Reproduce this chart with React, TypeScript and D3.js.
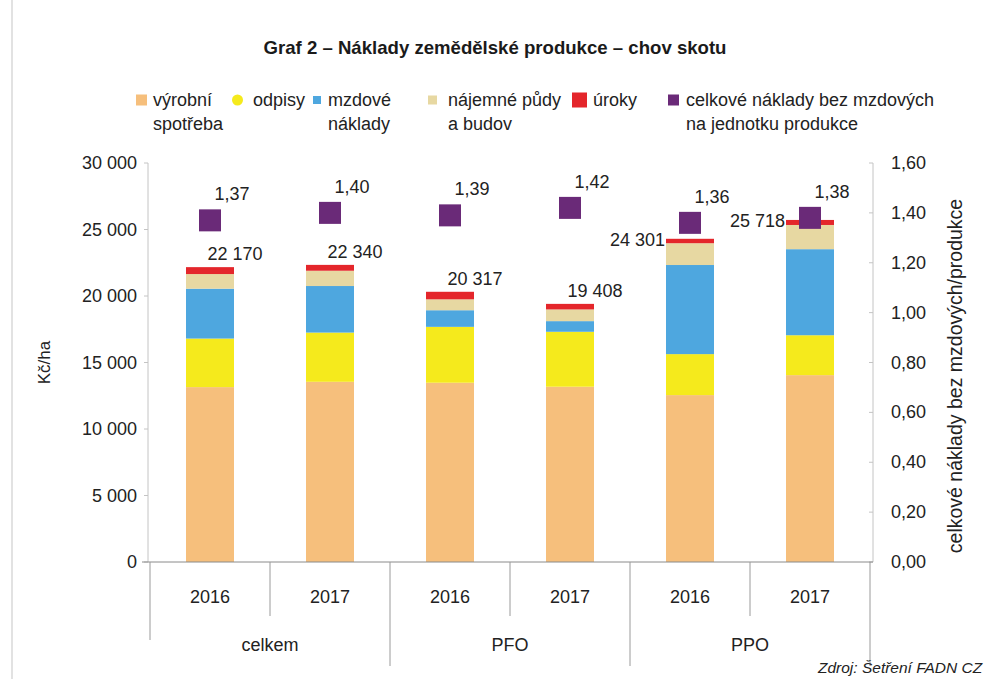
import React from 'react';
import * as d3 from 'd3';

// hodnoty (Kč/ha)
const years = ['2016', '2017', '2016', '2017', '2016', '2017'];
const groups = ['celkem', 'PFO', 'PPO'];
const vyrobniSpotreba = [13150, 13550, 13480, 13180, 12550, 14050];
const odpisy = [3650, 3700, 4200, 4130, 3080, 3000];
const mzdoveNaklady = [3750, 3500, 1250, 800, 6700, 6470];
const najemne = [1100, 1150, 820, 880, 1640, 1820];
const uroky = [520, 440, 567, 418, 331, 378];
const naJednotku = [1.37, 1.4, 1.39, 1.42, 1.36, 1.38];
const leftTicks = [0, 5000, 10000, 15000, 20000, 25000, 30000];
const rightTicks = [0, 0.2, 0.4, 0.6, 0.8, 1.0, 1.2, 1.4, 1.6];

const keys = ['vyrobni', 'odpisy', 'mzdove', 'najemne', 'uroky'];
const colors = {
  vyrobni: '#f6bf7c',
  odpisy: '#f5ea1c',
  mzdove: '#4ea7df',
  najemne: '#e7d8a2',
  uroky: '#e4262b',
};
const purple = '#6a2a78';

const cz = d3.formatLocale({ decimal: ',', thousands: '\u2009', grouping: [3], currency: ['', ''] });
const fmtInt = (v: number) => cz.format(',.0f')(v).replace(/\u2009/g, ' ');
const fmtDec = cz.format('.2f');

const font = "'Liberation Sans', Arial, sans-serif";

export default function App() {
  const W = 990, H = 679;
  const left = 150, right = 870, top = 163, bottom = 562;

  const rows = years.map((y, i) => ({
    idx: i,
    vyrobni: vyrobniSpotreba[i],
    odpisy: odpisy[i],
    mzdove: mzdoveNaklady[i],
    najemne: najemne[i],
    uroky: uroky[i],
  }));
  const series = d3.stack<any>().keys(keys)(rows);
  const totals = rows.map(r => keys.reduce((s, k) => s + (r as any)[k], 0));

  const x = d3.scaleBand<number>()
    .domain(d3.range(years.length))
    .range([left, right])
    .paddingInner(0.6)
    .paddingOuter(0.3);
  const y = d3.scaleLinear().domain([0, 30000]).range([bottom, top]);
  const y2 = d3.scaleLinear().domain([0, 1.6]).range([bottom, top]);
  const step = x.step();
  const bw = x.bandwidth();
  const cx = (i: number) => (x(i) as number) + bw / 2;

  const legend = [
    { c: colors.vyrobni, x: 136, s: 11, tx: 153, l1: 'výrobní', l2: 'spotřeba' },
    { c: colors.odpisy, x: 232, s: 11, tx: 253, l1: 'odpisy', l2: '', round: true },
    { c: colors.mzdove, x: 313, s: 8, tx: 328, l1: 'mzdové', l2: 'náklady' },
    { c: colors.najemne, x: 428, s: 9, tx: 448, l1: 'nájemné půdy', l2: 'a budov' },
    { c: colors.uroky, x: 572, s: 15, tx: 593, l1: 'úroky', l2: '' },
    { c: purple, x: 668, s: 11, tx: 686, l1: 'celkové náklady bez mzdových', l2: 'na jednotku produkce' },
  ];

  return (
    <svg width={W} height={H} style={{ position: 'absolute', left: 0, top: 0, background: '#fff' }}
      fontFamily={font}>
      <line x1={12} x2={12} y1={0} y2={H} stroke="#d8d8d8" strokeWidth={1.5} />

      <text x={495} y={54} textAnchor="middle" fontSize={18.6} fontWeight="bold" fill="#1a1a1a">
        Graf 2 – Náklady zemědělské produkce – chov skotu
      </text>

      {legend.map((d, i) => (
        <g key={i}>
          <rect x={d.x} y={100 - d.s / 2} width={d.s} height={d.s} rx={d.round ? d.s / 2 : 0} fill={d.c} />
          <text x={d.tx} y={106} fontSize={18} fill="#222">{d.l1}</text>
          {d.l2 && <text x={d.tx} y={130} fontSize={18} fill="#222">{d.l2}</text>}
        </g>
      ))}

      {/* osy */}
      <line x1={left - 2} x2={left - 2} y1={top} y2={bottom} stroke="#c4c4c4" />
      {leftTicks.map(t => (
        <g key={t}>
          <line x1={left - 6} x2={left - 2} y1={y(t)} y2={y(t)} stroke="#c4c4c4" />
          <text x={137} y={y(t) + 6} textAnchor="end" fontSize={18} fill="#222">{fmtInt(t)}</text>
        </g>
      ))}
      <line x1={right + 3} x2={right + 3} y1={top} y2={bottom} stroke="#c4c4c4" />
      {rightTicks.map(t => (
        <g key={t}>
          <line x1={right - 1} x2={right + 3} y1={y2(t)} y2={y2(t)} stroke="#c4c4c4" />
          <text x={891} y={y2(t) + 6} fontSize={18} fill="#222">{fmtDec(t)}</text>
        </g>
      ))}
      <text transform={`translate(50,${(top + bottom) / 2}) rotate(-90)`} textAnchor="middle" fontSize={17} fill="#222">Kč/ha</text>
      <text transform={`translate(962,376) rotate(-90)`} textAnchor="middle" fontSize={19.5} fill="#222">
        celkové náklady bez mzdových/produkce
      </text>

      {/* sloupce */}
      {series.map(s => (
        <g key={s.key} fill={(colors as any)[s.key]}>
          {s.map((d, i) => (
            <rect key={i} x={x(i)} y={y(d[1])} width={bw} height={y(d[0]) - y(d[1])} />
          ))}
        </g>
      ))}

      {/* osa x */}
      <line x1={142} x2={873} y1={bottom} y2={bottom} stroke="#8a8a8a" />
      {d3.range(years.length + 1).map(i => {
        const xx = left + i * step;
        const long = i % 2 === 0;
        const y2v = i === 0 ? 640 : long ? 666 : 616;
        return <line key={i} x1={xx} x2={xx} y1={bottom} y2={y2v} stroke="#9a9a9a" />;
      })}
      {years.map((yr, i) => (
        <text key={i} x={cx(i)} y={603} textAnchor="middle" fontSize={18} fill="#222">{yr}</text>
      ))}
      {groups.map((g, i) => (
        <text key={g} x={left + (2 * i + 1) * step} y={651} textAnchor="middle" fontSize={18} fill="#222">{g}</text>
      ))}

      {/* popisky souctu */}
      {totals.map((t, i) => {
        const yt = y(t);
        if (i < 4) {
          return <text key={i} x={cx(i) + 25} y={yt - 7} textAnchor="middle" fontSize={18} fill="#222">{fmtInt(t)}</text>;
        }
        return <text key={i} x={(x(i) as number) - 1} y={yt + 7} textAnchor="end" fontSize={18} fill="#222">{fmtInt(t)}</text>;
      })}

      {/* naklady na jednotku */}
      {naJednotku.map((v, i) => (
        <g key={i}>
          <rect x={cx(i) - 11} y={y2(v) - 11} width={22} height={22} fill={purple} />
          <text x={cx(i) + 22} y={y2(v) - 20} textAnchor="middle" fontSize={18} fill="#222">{fmtDec(v)}</text>
        </g>
      ))}

      <text x={818} y={673} fontSize={15.5} fontStyle="italic" fill="#222">Zdroj: Šetření FADN CZ</text>
    </svg>
  );
}
